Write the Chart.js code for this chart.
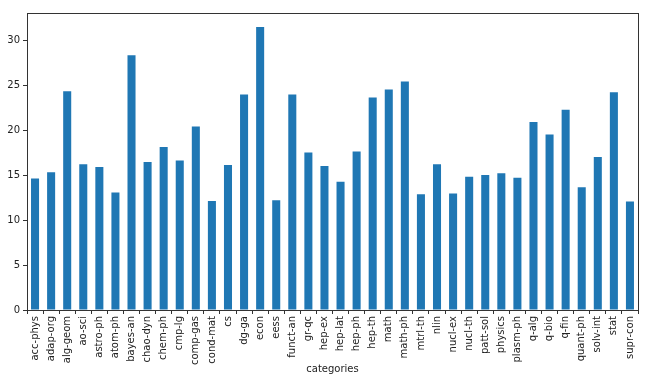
<!DOCTYPE html>
<html><head><meta charset="utf-8">
<script src="https://cdn.jsdelivr.net/npm/chart.js@4"></script>
<style>html,body{margin:0;padding:0;background:#fff}#wrap{width:650px;height:383px}</style>
</head><body><div id="wrap"><canvas id="c"></canvas></div>
<script>
const categories = ["acc-phys","adap-org","alg-geom","ao-sci","astro-ph","atom-ph","bayes-an","chao-dyn","chem-ph","cmp-lg","comp-gas","cond-mat","cs","dg-ga","econ","eess","funct-an","gr-qc","hep-ex","hep-lat","hep-ph","hep-th","math","math-ph","mtrl-th","nlin","nucl-ex","nucl-th","patt-sol","physics","plasm-ph","q-alg","q-bio","q-fin","quant-ph","solv-int","stat","supr-con"];
const values = [14.6,15.3,24.3,16.2,15.9,13.05,28.3,16.45,18.1,16.6,20.4,12.1,16.1,23.95,31.45,12.2,23.95,17.5,16.0,14.25,17.6,23.6,24.5,25.4,12.85,16.2,12.95,14.8,15.0,15.2,14.7,20.9,19.5,22.25,13.65,17.0,24.2,12.05];
const yTicks = [0,5,10,15,20,25,30];
const xTitle = "categories";

const frame = {
  id:'frame',
  afterDraw(chart){
    const {ctx, chartArea:a} = chart;
    ctx.save();
    ctx.strokeStyle = '#333';
    ctx.lineWidth = 1;
    ctx.strokeRect(Math.round(a.left)+0.5, Math.round(a.top)+0.5, Math.round(a.right-a.left), Math.round(a.bottom-a.top));
    ctx.restore();
  }
};

new Chart(document.getElementById('c'), {
  type:'bar',
  data:{labels:categories, datasets:[{data:values, backgroundColor:'#1f77b4', borderWidth:0, barPercentage:0.5, categoryPercentage:1.0}]},
  options:{
    responsive:true, maintainAspectRatio:false, animation:false,
    layout:{padding:{top:13,right:12,left:0,bottom:8}},
    plugins:{legend:{display:false}, tooltip:{enabled:false}},
    scales:{
      x:{
        offset:true,
        grid:{display:true, drawOnChartArea:false, drawTicks:true, tickLength:4, color:'#333'},
        border:{display:false},
        ticks:{color:'#222', font:{family:'DejaVu Sans', size:10}, maxRotation:90, minRotation:90, autoSkip:false, padding:2},
        title:{display:true, text:xTitle, color:'#222', font:{family:'DejaVu Sans', size:10}, padding:{top:2,bottom:0}},
        afterFit(s){ s.height = 65; }
      },
      y:{
        min:0, max:33,
        afterBuildTicks(s){ s.ticks = yTicks.map(v=>({value:v})); },
        grid:{display:true, drawOnChartArea:false, drawTicks:true, tickLength:4, color:'#333'},
        border:{display:false},
        ticks:{color:'#222', font:{family:'DejaVu Sans', size:10}, padding:3},
        afterFit(s){ s.width = 27; }
      }
    }
  },
  plugins:[frame]
});
</script></body></html>
